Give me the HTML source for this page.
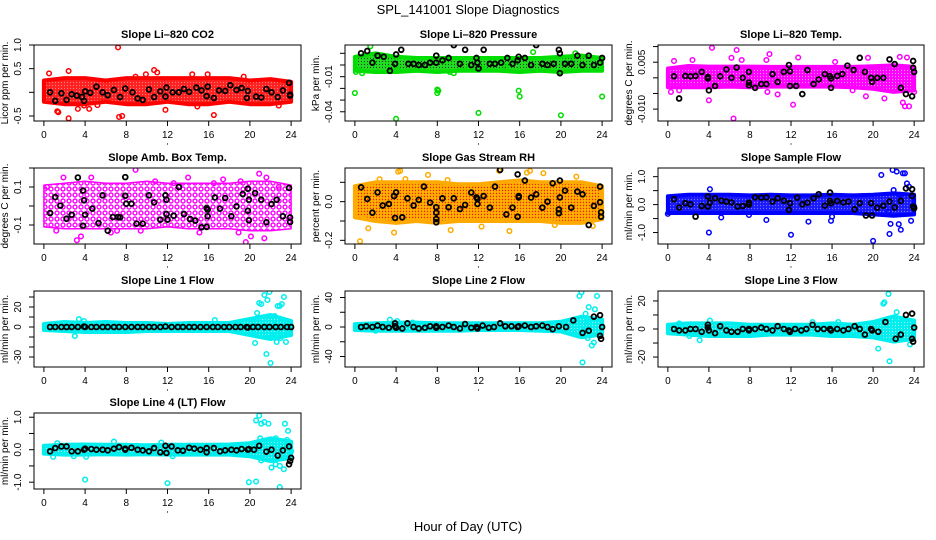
<!DOCTYPE html>
<html><head><meta charset="utf-8"><style>
html,body{margin:0;padding:0;background:#fff;}
svg{display:block;font-family:"Liberation Sans",Arial,sans-serif;}
</style></head><body>
<svg id="chart" width="936" height="540" viewBox="0 0 936 540" xmlns="http://www.w3.org/2000/svg">
<defs>
<pattern id="pat-red" width="3" height="3" patternUnits="userSpaceOnUse"><rect width="3" height="3" fill="#ff2020"/><circle cx="1.5" cy="1.5" r="0.6" fill="#ff8080"/></pattern>
<pattern id="pat-green" width="3" height="3" patternUnits="userSpaceOnUse"><rect width="3" height="3" fill="#22dd22"/><circle cx="1.5" cy="1.5" r="0.6" fill="#004400"/></pattern>
<pattern id="pat-mag" width="3" height="3" patternUnits="userSpaceOnUse"><rect width="3" height="3" fill="#ff00ff"/><circle cx="1.5" cy="1.5" r="0.6" fill="#ff99ff"/></pattern>
<pattern id="pat-mag2" width="6" height="6" patternUnits="userSpaceOnUse"><rect width="6" height="6" fill="#fff"/><circle cx="3" cy="3" r="2" fill="none" stroke="#ff00ff" stroke-width="1.4"/></pattern>
<pattern id="pat-rh" width="3" height="3" patternUnits="userSpaceOnUse"><rect width="3" height="3" fill="#ffb000"/><circle cx="1.5" cy="1.5" r="0.7" fill="#ee2200"/></pattern>
<pattern id="pat-blue" width="3" height="3" patternUnits="userSpaceOnUse"><rect width="3" height="3" fill="#1a1aff"/><circle cx="1.5" cy="1.5" r="0.6" fill="#7777ff"/></pattern>
<pattern id="pat-cyan" width="3" height="3" patternUnits="userSpaceOnUse"><rect width="3" height="3" fill="#00eeee"/><circle cx="1.5" cy="1.5" r="0.6" fill="#99ffff"/></pattern>
</defs>
<text x="468" y="14" text-anchor="middle" font-size="13">SPL_141001  Slope Diagnostics</text>
<text x="468" y="531" text-anchor="middle" font-size="13">Hour of Day (UTC)</text>
</svg>
<script>
// shared band hours
const bandHours = [0,2,4,6,8,10,12,14,16,18,20,22,24];
const xTicks = [0,4,8,12,16,20,24];

// Panel 1: CO2
const co2Upper = [0.25,0.3,0.3,0.25,0.3,0.3,0.3,0.3,0.3,0.3,0.25,0.28,0.22];
const co2Lower = [-0.2,-0.25,-0.25,-0.2,-0.25,-0.25,-0.2,-0.25,-0.25,-0.2,-0.25,-0.25,-0.2];
const co2Out = [[7.2,0.95],[1.4,-0.42],[2.4,-0.55],[3.3,-0.35],[4.4,-0.35],[7.3,-0.52],[7.6,-0.5],[11.8,-0.37],[16.5,-0.48],[2.4,0.45],[10.7,0.47],[11,0.42],[0.5,0.4],[15.9,0.38],[14.4,0.38],[9.9,0.38],[8.9,0.33],[5.2,-0.27],[3.9,-0.28],[19.4,0.33],[22.8,-0.28],[14.9,-0.3],[1.3,-0.4]];
const co2Blk = [[0.6,0],[1.1,-0.18],[1.7,-0.02],[2.2,-0.16],[2.7,-0.04],[3.2,-0.07],[3.7,-0.1],[3.9,-0.18],[4.0,0.02],[4.5,-0.01],[5.1,0.12],[5.7,0],[6.2,-0.06],[6.8,0.05],[7.4,-0.1],[7.9,0.08],[8.6,0],[9.1,-0.13],[9.6,-0.16],[10.2,0.06],[10.7,-0.1],[11.3,0.02],[11.8,-0.09],[11.9,0.1],[12.5,0],[13.1,0],[13.6,0.07],[14.1,0.01],[14.8,0.1],[15.3,0.04],[15.8,-0.08],[15.9,0.12],[16.5,-0.12],[17.0,0.04],[17.6,0.03],[18.1,0.15],[18.7,0.05],[19.2,0.09],[19.7,-0.12],[19.8,0.03],[20.6,-0.09],[21.1,-0.11],[21.6,0.07],[22.1,0],[22.7,-0.1],[23.2,0.04],[23.8,0.2],[23.9,-0.05],[23.9,-0.07]];

// Panel 2: Pressure
const prsUpper = [0.007,0.01,0.007,0.006,0.006,0.006,0.006,0.006,0.006,0.006,0.007,0.008,0.006];
const prsLower = [-0.005,-0.006,-0.006,-0.005,-0.006,-0.005,-0.005,-0.005,-0.006,-0.005,-0.006,-0.005,-0.005];
const prsOut = [[0.0,-0.024],[0.1,-0.006],[0.4,-0.004],[0.7,-0.007],[1.5,0.016],[4.0,-0.046],[4.1,-0.004],[8.0,-0.021],[8.0,-0.024],[8.1,-0.022],[9.2,-0.006],[9.6,-0.007],[11,-0.003],[12,-0.041],[12.4,-0.003],[15.9,-0.022],[16,-0.027],[17.3,0.011],[19.8,-0.006],[20,-0.043],[24,-0.027],[14.7,-0.002],[21.4,0.01]];
const prsBlk = [[0.6,0.01],[1.2,0.012],[1.7,0.002],[2.2,0.008],[2.8,0.007],[3.4,-0.005],[3.9,0.001],[4.0,0.009],[4.5,0.013],[5.2,0.001],[5.7,0.001],[6.2,0],[6.8,0],[7.3,0.002],[7.9,0.002],[7.9,0.008],[8.5,0.004],[9.1,0.006],[9.6,0.017],[10.2,0.001],[10.7,0.013],[11.3,0],[11.8,0.006],[11.9,0.002],[12,-0.003],[12.5,0.013],[13.1,0.001],[13.6,0.001],[14.2,0.002],[14.8,0.006],[15.3,0.001],[15.8,0.004],[15.9,0.007],[16.5,0.006],[17.1,0],[17.6,0.017],[18.2,0.001],[18.7,0],[19.3,0.001],[19.8,0.013],[19.9,0.01],[19.9,-0.007],[20.4,0.001],[21,0.001],[21.6,0.008],[22.1,0],[22.7,0.008],[23.2,0],[23.8,0.002],[24,0.006]];

// Panel 3: Li-820 Temp
const tmpUpper = [0.003,0.0038,0.0036,0.0036,0.0036,0.0035,0.0035,0.0035,0.0035,0.0035,0.0037,0.004,0.0035];
const tmpLower = [-0.003,-0.003,-0.003,-0.0028,-0.003,-0.0028,-0.0028,-0.0028,-0.0028,-0.003,-0.0035,-0.0045,-0.004];
const tmpOut = [[4.3,0.0096],[6.7,0.0089],[9.9,0.0076],[6.4,-0.013],[12.2,-0.0086],[4,-0.0072],[0.6,0.0054],[2.4,0.0057],[6.2,0.0064],[7.2,0.0057],[9.6,0.0057],[12.7,0.0065],[16.3,0.0051],[19.5,0.0064],[21.6,0.0059],[22.6,0.0067],[23.3,0.0065],[19.3,-0.0059],[21.1,-0.0066],[23.1,-0.0091],[23.5,-0.0091],[22.9,-0.0079],[10.7,-0.0053],[9.7,-0.0045],[24,-0.0045],[1.1,-0.004],[18,-0.004],[0.3,-0.0045]];
const tmpBlk = [[0.6,0.0005],[1.1,-0.0066],[1.7,0.0006],[2.2,0.0005],[2.7,0.0006],[3.3,0.0019],[3.9,0.0003],[3.9,-0.0002],[4,-0.004],[4.6,-0.0026],[5.1,0.0005],[5.7,0.0027],[6.2,0],[6.7,0.0033],[7.3,0],[7.9,0.0019],[7.9,-0.0015],[7.9,-0.0024],[8.5,-0.0032],[9.1,-0.002],[9.6,-0.002],[10.2,0.0012],[10.7,-0.0013],[11.3,0.0019],[11.8,0.0041],[11.9,0.0021],[11.9,-0.0026],[12.5,-0.0026],[13.1,-0.0052],[13.6,0.0025],[14.2,-0.002],[14.7,-0.0005],[15.3,0.0012],[15.8,0.0005],[15.9,-0.0002],[15.9,-0.0032],[16.5,0.0006],[17,0.0012],[17.5,0.0039],[18.1,0.0025],[18.7,0.0064],[19.2,0.0019],[19.8,0],[19.9,-0.0013],[20.4,0],[21,0],[21.6,0.0059],[22.1,0.0044],[22.7,-0.0032],[23.2,-0.0052],[23.8,-0.0059],[23.9,0.0054],[23.9,0.0032],[24,0.0019]];

// Panel 4: Amb Box Temp
const ambUpper = [0.11,0.12,0.13,0.12,0.12,0.13,0.12,0.12,0.12,0.12,0.13,0.13,0.11];
const ambLower = [-0.11,-0.12,-0.12,-0.12,-0.12,-0.12,-0.11,-0.12,-0.12,-0.12,-0.13,-0.13,-0.12];
const ambOut = [[8.9,0.19],[19.6,-0.19],[20.9,0.17],[1.2,-0.13],[3.6,-0.16],[4.6,0.15],[1.9,0.15],[6.5,-0.14],[7.1,-0.13],[9.4,-0.13],[18.9,-0.14],[20.1,-0.16],[21.4,-0.17],[14,0.15],[16.5,0.12],[17.4,0.14],[19.1,0.13],[21.6,0.15],[22.8,0.1],[0.3,0.1],[3.2,-0.18],[10.8,0.13],[12.6,0.12],[15.1,-0.14]];
const ambBlk = [[0.6,-0.037],[1.1,0.047],[1.6,0.002],[2.2,-0.067],[2.7,-0.046],[3.3,0.15],[3.8,-0.104],[3.8,0.081],[3.9,0.03],[4.0,-0.046],[4.7,-0.014],[5.3,-0.09],[5.7,0.056],[6.2,-0.13],[6.7,-0.058],[7.2,-0.058],[7.4,-0.06],[7.9,0.152],[7.9,0.054],[8.0,0.012],[8.5,0.012],[9.0,-0.093],[9.6,-0.093],[10.2,0.056],[10.7,0.019],[11.3,-0.072],[11.8,0.056],[11.9,0.033],[11.9,-0.042],[12,-0.072],[12.6,-0.051],[13.1,0.1],[13.6,-0.042],[14.2,-0.069],[14.7,-0.077],[15.3,-0.112],[15.8,-0.11],[15.8,-0.011],[15.9,-0.019],[15.9,-0.054],[16.6,0.045],[17.1,-0.014],[17.6,0.042],[18.2,-0.054],[18.7,-0.002],[19.3,0.063],[19.8,0.091],[19.9,0.033],[19.8,-0.025],[19.9,-0.075],[20.5,0.068],[21.1,0.033],[21.6,-0.086],[22.1,0.01],[22.6,0.033],[23.2,-0.054],[23.8,0.095],[23.9,-0.06],[23.9,-0.084]];

// Panel 5: Gas Stream RH
const rhUpper = [0.08,0.1,0.1,0.1,0.1,0.09,0.09,0.1,0.11,0.1,0.1,0.1,0.08];
const rhLower = [-0.08,-0.1,-0.11,-0.1,-0.11,-0.1,-0.1,-0.1,-0.1,-0.1,-0.11,-0.11,-0.09];
const rhOut = [[0.5,-0.205],[1.3,-0.138],[3.8,-0.16],[9.3,-0.147],[15,-0.152],[12.3,-0.129],[4.2,0.155],[7.1,0.138],[4.4,0.159],[17,0.159],[18.3,0.147],[21.5,0.129],[14,0.159],[9,0.112],[4.9,0.117],[2.4,0.116],[19.4,-0.121],[0.1,-0.078],[23.1,-0.126],[16.7,0.15]];
const rhBlk = [[0.6,0.074],[1.2,0.014],[1.7,-0.057],[2.2,0.048],[2.7,-0.02],[3.3,-0.012],[3.8,0.029],[3.9,-0.084],[4.0,0.048],[4.6,-0.081],[5.1,0.017],[5.7,-0.02],[6.2,0.009],[6.7,0.078],[7.3,-0.005],[7.9,-0.029],[7.9,-0.057],[7.9,-0.09],[7.9,-0.107],[8.5,0.017],[9.1,-0.029],[9.6,0.017],[10.2,-0.038],[10.7,-0.017],[11.3,0.047],[11.8,0.022],[11.9,0.014],[11.9,-0.012],[12.5,0.029],[13.1,-0.031],[13.6,0.078],[14.1,0.164],[14.7,-0.066],[15.3,-0.031],[15.8,-0.078],[15.9,0.022],[15.8,0.141],[15.9,0.029],[16.5,0.109],[17.1,0.021],[17.6,0.038],[18.2,-0.031],[18.7,0],[19.2,0.095],[19.8,-0.04],[19.8,-0.06],[19.9,0.109],[19.9,0.022],[20.4,0.057],[21,-0.031],[21.6,0.052],[22.1,0.038],[22.7,-0.121],[23.2,-0.022],[23.8,-0.003],[23.8,0.078],[23.9,-0.055],[23.9,-0.078]];

// Panel 6: Sample Flow
const sfUpper = [0.3,0.35,0.35,0.35,0.33,0.35,0.33,0.33,0.35,0.33,0.35,0.4,0.35];
const sfLower = [-0.3,-0.3,-0.3,-0.3,-0.3,-0.3,-0.3,-0.3,-0.3,-0.3,-0.35,-0.4,-0.35];
const sfOut = [[0,-0.33],[4,-1.0],[4.1,0.55],[5.2,-0.46],[9.6,-0.55],[12,-1.08],[13.7,-0.61],[15.9,-0.58],[16.0,-0.43],[20,-1.3],[20.8,1.06],[21.7,-0.69],[21.6,-1.05],[21.9,1.24],[22.3,1.18],[22.5,-0.7],[22.7,-0.9],[22.9,1.12],[23.1,1.12],[23.3,0.76],[23.5,0.64],[23.7,-0.58],[21.5,-0.25],[22,0.52],[22.6,0.35],[7.9,-0.37],[24,-0.07]];
const sfBlk = [[0.6,0.19],[1.1,-0.1],[1.7,0.05],[2.2,0.01],[2.7,-0.43],[3.3,-0.05],[3.9,0.29],[3.9,-0.07],[4.1,0.07],[4.6,0.23],[5.2,0.14],[5.7,0.11],[6.2,0.08],[6.8,-0.07],[7.3,-0.05],[7.9,0.07],[7.9,0],[8.5,0.26],[9.1,0.25],[9.6,0.26],[10.2,0.11],[10.7,0.23],[11.3,0.14],[11.8,-0.19],[11.9,0.05],[12.6,0.25],[13.1,0.01],[13.6,0.07],[14.2,0.23],[14.7,0.37],[15.3,-0.04],[15.8,0.43],[15.8,0.13],[15.9,0.05],[16.5,0.13],[17.1,0.08],[17.6,0.11],[18.2,-0.17],[18.7,0.05],[19.3,-0.39],[19.8,0.05],[19.9,-0.39],[20.4,-0.11],[21,-0.04],[21.6,0.11],[22.1,-0.1],[22.7,0.13],[23.2,0.58],[23.8,0.55],[23.8,0.31],[23.9,-0.07],[24,-0.13]];

// Panel 7: Line 1 Flow
const l1Upper = [3,5,4,5,4,4,3,4,4,4,8,12,6];
const l1Lower = [-3,-4,-5,-5,-5,-4,-4,-4,-4,-4,-8,-12,-8];
const l1Out = [[20.5,-16],[20.7,14],[20.9,24],[21.1,23],[21.4,32],[21.6,-27],[21.7,27],[21.9,35],[22,-36],[22.2,4],[22.4,11],[22.6,-15],[22.7,21],[22.9,21],[23.0,-11],[23.1,23],[23.3,30],[23.5,-15],[23.4,4],[20.2,-4],[21.2,8],[3.0,-9],[3.4,8],[3.9,6],[16.6,7],[22.2,-9],[23.7,-4],[22.8,-7]];
const l1Blk = [[0.6,0],[1.1,0],[1.7,0],[2.2,0],[2.7,0],[3.3,0],[3.9,0.5],[4.0,0],[4.6,0],[5.1,0],[5.7,0],[6.2,0],[6.8,0],[7.3,0],[7.9,0],[8.5,0],[9.1,0],[9.6,0],[10.2,0],[10.7,0],[11.3,0],[11.8,0.5],[12.4,0],[13.0,0],[13.5,0],[14.1,0],[14.6,0],[15.2,0],[15.8,0],[16.4,0],[16.9,0],[17.5,0],[18.0,0],[18.6,0],[19.1,0],[19.7,0],[19.8,-0.5],[20.3,0],[20.8,0],[21.4,0],[21.9,0],[22.5,0],[23.0,0],[23.6,0],[24,0]];

// Panel 8: Line 2 Flow
const l2Upper = [4,5,6,6,5,5,5,5,5,5,7,14,10];
const l2Lower = [-4,-5,-5,-5,-5,-5,-4,-4,-4,-5,-6,-14,-10];
const l2Out = [[3.4,10],[5.6,6],[21.8,42],[22,47],[22.1,-48],[22.4,18],[22.6,-15],[22.7,27],[22.9,-10],[23,-25],[23.2,-21],[23.3,24],[23.5,42],[22.3,-5],[21.5,10],[23.7,-10],[20,5],[24,0],[1,-3],[2,-5],[22.7,8],[4.1,8]];
const l2Blk = [[0.6,0],[1.1,1],[1.7,0],[2.2,2],[2.7,0],[3.3,-1],[3.9,5],[3.9,1],[4.0,-1],[4.6,-2],[5.1,5],[5.7,0],[6.2,-2],[6.8,-1],[7.3,1],[7.9,-1],[7.9,1],[8.5,0],[9.1,2],[9.6,0],[10.2,-2],[10.7,4],[11.3,-1],[11.8,0],[11.9,-2],[12.4,2],[13.0,-1],[13.5,0],[14.1,5],[14.6,1],[15.2,1],[15.8,0],[15.9,1],[16.5,2],[17.1,0],[17.6,1],[18.2,2],[18.7,0],[19.2,-3],[19.8,1],[20.5,0],[21.2,9],[22.1,-8],[22.7,-5],[23.2,14],[23.8,16],[23.8,-12],[23.9,-16],[24,0]];

// Panel 9: Line 3 Flow
const l3Upper = [3,4,4,4,3,3,3,3,4,3,5,9,6];
const l3Lower = [-3,-4,-5,-5,-5,-4,-4,-4,-5,-5,-6,-9,-7];
const l3Out = [[3.1,-8],[20.5,-14],[21.0,18],[21.1,19],[21.5,25],[21.6,-23],[22.3,12],[23.6,-11],[22.5,-5],[20.4,5],[22,7],[4.1,6],[2.1,-5],[16.6,5],[14.1,5],[1.1,4]];
const l3Blk = [[0.6,0],[1.1,-1],[1.7,-1],[2.2,0],[2.7,0],[3.3,-2],[3.9,3],[3.9,1],[4.0,-1],[4.6,-3],[5.1,2],[5.7,-1],[6.2,-2],[6.8,-2],[7.3,0],[7.9,-1],[7.9,0],[8.5,0],[9.1,1],[9.6,0],[10.2,-1],[10.7,2],[11.3,0],[11.8,-1],[11.9,-2],[12.4,0],[13.0,-1],[13.5,0],[14.1,3],[14.6,0],[15.2,0],[15.8,0],[15.9,-1],[16.5,0],[17.1,-1],[17.6,0],[18.2,2],[18.7,0],[19.2,-4],[19.8,0],[19.9,-1],[20.5,-2],[21.2,5],[22.2,-7],[22.7,-4],[23.2,10],[23.8,11],[23.8,-7],[23.9,-9],[24,1]];

// Panel 10: Line 4 (LT) Flow
const l4Upper = [0.12,0.15,0.16,0.15,0.15,0.14,0.15,0.15,0.15,0.16,0.2,0.35,0.25];
const l4Lower = [-0.12,-0.15,-0.15,-0.14,-0.15,-0.14,-0.15,-0.15,-0.15,-0.15,-0.2,-0.35,-0.25];
const l4Out = [[4,-0.92],[12,-1.03],[19.9,-1.0],[20.6,-0.98],[22.9,-1.15],[20.6,0.9],[20.9,1.05],[21.1,0.8],[21.4,0.85],[21.8,0.8],[23.4,0.8],[23.7,0.58],[21.1,-0.33],[21.8,0.25],[22.1,-0.55],[22.5,-0.45],[22.9,-0.5],[23.3,-0.6],[23.6,0.3],[0.9,-0.22],[4.1,-0.22],[2.9,-0.2],[6.8,0.25],[11.4,0.22],[12.5,-0.2],[24,-0.05],[21,0.35],[22.5,0.35],[1.3,0.2]];
const l4Blk = [[0.6,-0.05],[1.1,0.05],[1.7,0.1],[2.2,0.1],[2.7,-0.05],[3.3,-0.05],[3.9,0],[4.0,0.03],[4.6,0.02],[5.1,0],[5.7,0],[6.2,-0.02],[6.8,0.03],[7.3,0.08],[7.9,0],[7.9,0.03],[8.5,0.06],[9.1,0],[9.6,-0.02],[10.2,-0.05],[10.7,0.05],[11.3,-0.08],[11.8,0.12],[11.9,-0.1],[12.4,0.1],[13.0,-0.02],[13.5,-0.03],[14.1,0.06],[14.6,0.03],[15.2,0],[15.8,0.05],[15.8,-0.08],[16.5,0.05],[17.1,-0.05],[17.6,-0.02],[18.2,0],[18.7,-0.02],[19.2,0.02],[19.8,0],[19.9,0.02],[20.4,0],[20.9,0.12],[21.6,-0.06],[22.1,0],[22.7,-0.18],[23.2,-0.02],[23.8,0.1],[23.8,-0.45],[23.9,-0.35],[24,-0.25]];

const NS = 'http://www.w3.org/2000/svg';
const svg = document.getElementById('chart');
const colX = [[34,301],[345,612],[658,924]];
const rowY = [[45,121],[168,244],[291,367],[413,489]];

function mk(tag, attrs, parent){
  const e = document.createElementNS(NS, tag);
  for (const k in attrs) e.setAttribute(k, attrs[k]);
  (parent||svg).appendChild(e);
  return e;
}

const panels = [
  {id:'co2',title:'Slope Li\u2013820 CO2',ytitle:'Licor ppm per min.',col:0,row:0,dom:[-0.606,1.0],ticks:[-0.5,0,0.5,1.0],labels:['-0.5','','0.5','1.0'],color:'#ff0000',fill:'url(#pat-red)',sw:4,up:co2Upper,lo:co2Lower,out:co2Out,blk:co2Blk},
  {id:'pressure',title:'Slope Li\u2013820 Pressure',ytitle:'kPa per min.',col:1,row:0,dom:[-0.0479,0.0171],ticks:[0.01,0,-0.01,-0.02,-0.03,-0.04],labels:['','','-0.01','','','-0.04'],color:'#00dd00',fill:'url(#pat-green)',sw:4,up:prsUpper,lo:prsLower,out:prsOut,blk:prsBlk},
  {id:'li820-temp',title:'Slope Li\u2013820 Temp.',ytitle:'degrees C per min.',col:2,row:0,dom:[-0.0138,0.0105],ticks:[0.01,0.005,0,-0.005,-0.01],labels:['','0.005','','','-0.010'],color:'#ff00ff',fill:'url(#pat-mag)',sw:4,up:tmpUpper,lo:tmpLower,out:tmpOut,blk:tmpBlk},
  {id:'amb-box-temp',title:'Slope Amb. Box Temp.',ytitle:'degrees C per min.',col:0,row:1,dom:[-0.2,0.2],ticks:[0.2,0.1,0,-0.1],labels:['','0.1','','-0.1'],color:'#ff00ff',fill:'url(#pat-mag2)',sw:1.5,up:ambUpper,lo:ambLower,out:ambOut,blk:ambBlk},
  {id:'gas-stream-rh',title:'Slope Gas Stream RH',ytitle:'percent per min.',col:1,row:1,dom:[-0.219,0.174],ticks:[0.1,0,-0.1,-0.2],labels:['','0.0','','-0.2'],color:'#ffaa00',fill:'url(#pat-rh)',sw:4,up:rhUpper,lo:rhLower,out:rhOut,blk:rhBlk},
  {id:'sample-flow',title:'Slope Sample Flow',ytitle:'ml/min per min.',col:2,row:1,dom:[-1.41,1.31],ticks:[1,0.5,0,-0.5,-1],labels:['1.0','','0.0','','-1.0'],color:'#0000ff',fill:'url(#pat-blue)',sw:4,up:sfUpper,lo:sfLower,out:sfOut,blk:sfBlk},
  {id:'line1-flow',title:'Slope Line 1 Flow',ytitle:'ml/min per min.',col:0,row:2,dom:[-40,36],ticks:[30,20,10,0,-10,-20,-30],labels:['','20','','0','','','-30'],color:'#00eeee',fill:'url(#pat-cyan)',sw:4,up:l1Upper,lo:l1Lower,out:l1Out,blk:l1Blk},
  {id:'line2-flow',title:'Slope Line 2 Flow',ytitle:'ml/min per min.',col:1,row:2,dom:[-54.2,48.8],ticks:[40,20,0,-20,-40],labels:['40','','0','','-40'],color:'#00eeee',fill:'url(#pat-cyan)',sw:4,up:l2Upper,lo:l2Lower,out:l2Out,blk:l2Blk},
  {id:'line3-flow',title:'Slope Line 3 Flow',ytitle:'ml/min per min.',col:2,row:2,dom:[-27.1,27.1],ticks:[20,10,0,-10,-20],labels:['20','','0','','-20'],color:'#00eeee',fill:'url(#pat-cyan)',sw:4,up:l3Upper,lo:l3Lower,out:l3Out,blk:l3Blk},
  {id:'line4-flow',title:'Slope Line 4 (LT) Flow',ytitle:'ml/min per min.',col:0,row:3,dom:[-1.21,1.13],ticks:[1,0.5,0,-0.5,-1],labels:['1.0','','0.0','','-1.0'],color:'#00eeee',fill:'url(#pat-cyan)',sw:4,up:l4Upper,lo:l4Lower,out:l4Out,blk:l4Blk}
];

panels.forEach(p => {
  const [x0,x1] = colX[p.col], [y0,y1] = rowY[p.row];
  const sx = h => x0 + (h + 0.96) / 25.92 * (x1 - x0);
  const sy = v => y0 + (p.dom[1] - v) / (p.dom[1] - p.dom[0]) * (y1 - y0);
  const g = mk('g', {});
  
  
  const cid = 'clip-' + p.id;
  const cp = mk('clipPath', {id: cid}, g);
  mk('rect', {x:x0, y:y0, width:x1-x0, height:y1-y0}, cp);
  const t = mk('text', {x:(x0+x1)/2, y:y0-7, 'text-anchor':'middle', 'font-size':11, 'font-weight':'bold'}, g);
  t.textContent = p.title;
  
  
  const tx = x0 - 26, ty = (y0+y1)/2;
  const yt = mk('text', {x:tx, y:ty, 'text-anchor':'middle', 'font-size':10, transform:`rotate(-90 ${tx} ${ty})`}, g);
  yt.textContent = p.ytitle;
  
  
  const plot = mk('g', {'clip-path':`url(#${cid})`}, g);
  
  
  let d = '';
  bandHours.forEach((h,i) => { d += (i ? 'L' : 'M') + sx(h).toFixed(1) + ',' + sy(p.up[i]).toFixed(1); });
  for (let i = bandHours.length - 1; i >= 0; i--) d += 'L' + sx(bandHours[i]).toFixed(1) + ',' + sy(p.lo[i]).toFixed(1);
  d += 'Z';
  const band = mk('path', {d:d, fill:p.fill, stroke:p.color, 'stroke-width':p.sw, 'stroke-linejoin':'round'}, plot);
  
  
  p.out.forEach(pt => {
    const c = mk('circle', {cx:sx(pt[0]), cy:sy(pt[1]), r:2.3, fill:'none', stroke:p.color, 'stroke-width':1.5}, plot);
    
    
  });
  p.blk.forEach(pt => {
    const c = mk('circle', {cx:sx(pt[0]), cy:sy(pt[1]), r:2.4, fill:'none', stroke:'#000', 'stroke-width':1.8}, plot);
    
    
  });
  const box = mk('rect', {x:x0, y:y0, width:x1-x0, height:y1-y0, fill:'none', stroke:'#000', 'stroke-width':1}, g);
  
  
  xTicks.forEach(h => {
    mk('line', {x1:sx(h), x2:sx(h), y1:y1, y2:y1+5, stroke:'#000'}, g);
    const lt = mk('text', {x:sx(h), y:y1+17, 'text-anchor':'middle', 'font-size':10}, g);
    lt.textContent = h;
    
    
  });
  mk('circle', {cx:sx(12), cy:y1+23, r:0.6, fill:'#000'}, g);
  p.ticks.forEach((v,i) => {
    mk('line', {x1:x0-5, x2:x0, y1:sy(v), y2:sy(v), stroke:'#000'}, g);
    if (p.labels[i]) {
      const lx = x0 - 13, ly = sy(v);
      const lt = mk('text', {x:lx, y:ly, 'text-anchor':'middle', 'font-size':10, transform:`rotate(-90 ${lx} ${ly})`}, g);
      lt.textContent = p.labels[i];
      
      
    }
  });
});
</script>
</body></html>
